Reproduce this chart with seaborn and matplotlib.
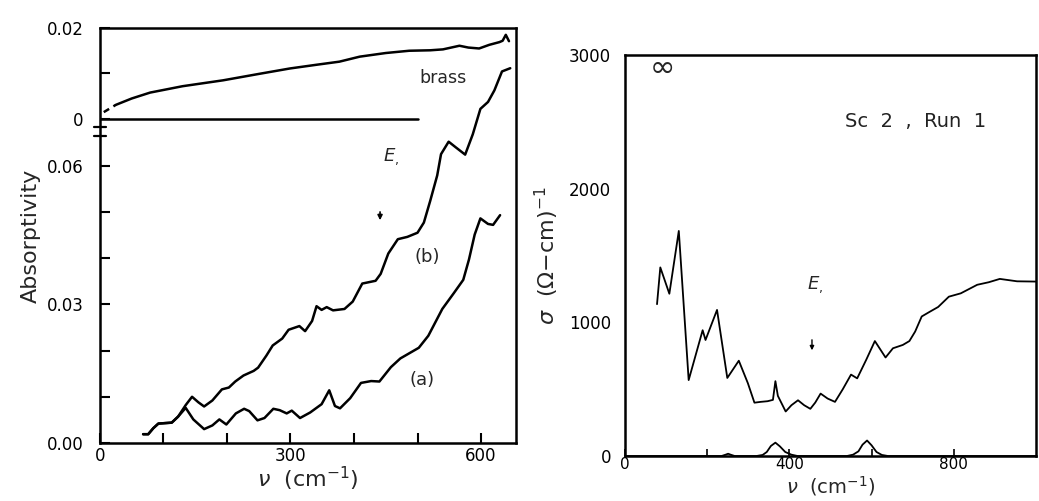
import matplotlib
matplotlib.use("Agg")
import matplotlib.pyplot as plt
import seaborn as sns

# ---------------- left panel: absorptivity ----------------
# curve (b)
b_nu = [68, 76, 84, 92, 113, 123, 135, 145, 155, 164, 177, 192, 203, 213, 226, 242,
        249, 262, 272, 287, 297, 314, 323, 334, 341, 349, 357, 367, 385, 398, 413,
        434, 442, 454, 469, 484, 500, 510, 520, 531, 537, 549, 560, 575, 587, 599,
        611, 621, 633, 646]
b_abs = [0.0019, 0.0019, 0.0032, 0.0042, 0.0044, 0.0057, 0.0082, 0.0100, 0.0088,
         0.0079, 0.0092, 0.0116, 0.0120, 0.0133, 0.0146, 0.0156, 0.0163, 0.0189,
         0.0211, 0.0226, 0.0245, 0.0253, 0.0242, 0.0264, 0.0296, 0.0288, 0.0294,
         0.0287, 0.0290, 0.0306, 0.0345, 0.0351, 0.0366, 0.0410, 0.0441, 0.0446,
         0.0455, 0.0477, 0.0524, 0.0579, 0.0625, 0.0652, 0.0640, 0.0624, 0.0668,
         0.0723, 0.0738, 0.0763, 0.0804, 0.0811]

# curve (a)
a_nu = [68, 76, 84, 92, 113, 123, 135, 147, 164, 177, 188, 199, 214, 227, 235, 248,
        259, 273, 283, 294, 302, 315, 331, 349, 361, 370, 378, 394, 411, 427, 440,
        458, 473, 502, 517, 539, 557, 572, 581, 590, 599, 611, 619, 630]
a_abs = [0.0019, 0.0019, 0.0032, 0.0042, 0.0044, 0.0057, 0.0076, 0.0051, 0.0030,
         0.0038, 0.0051, 0.0040, 0.0064, 0.0074, 0.0069, 0.0049, 0.0054, 0.0074,
         0.0071, 0.0064, 0.0070, 0.0054, 0.0066, 0.0084, 0.0114, 0.0080, 0.0075,
         0.0097, 0.0130, 0.0134, 0.0133, 0.0164, 0.0183, 0.0206, 0.0232, 0.0290,
         0.0324, 0.0353, 0.0397, 0.0451, 0.0486, 0.0474, 0.0472, 0.0493]

# brass reference (dashed extrapolation + measured part)
brass_dash_nu = [6, 25]
brass_dash_abs = [0.0015, 0.0031]
brass_nu = [25, 50, 79, 130, 194, 250, 299, 340, 377, 409, 450, 487, 520, 540, 566,
            580, 597, 613, 629, 634, 639, 644]
brass_abs = [0.0031, 0.0045, 0.0058, 0.0072, 0.0085, 0.0099, 0.0111, 0.0119, 0.0126,
             0.0137, 0.0145, 0.0150, 0.0151, 0.0153, 0.0161, 0.0157, 0.0155, 0.0163,
             0.0169, 0.0172, 0.0185, 0.0171]
zero_nu = [0, 500]
zero_abs = [0.0, 0.0]

left_xticks = [0, 100, 200, 300, 400, 500, 600]
left_xlabels = ["0", "", "", "300", "", "", "600"]
left_yticks = [0.00, 0.01, 0.02, 0.03, 0.04, 0.05, 0.06]
left_ylabels = ["0.00", "", "", "0.03", "", "", "0.06"]
brass_yticks = [0.0, 0.01, 0.02]
brass_ylabels = ["0", "", "0.02"]

# ---------------- right panel: conductivity ----------------
sig_nu = [78, 86, 108, 131, 155, 189, 196, 224, 249, 277, 299, 315, 330, 347, 360,
          366, 372, 391, 405, 421, 436, 451, 463, 476, 493, 511, 530, 550, 565, 587,
          608, 634, 652, 676, 692, 706, 722, 742, 762, 788, 817, 857, 885, 912, 954,
          1000]
sig_val = [1136, 1411, 1214, 1684, 568, 941, 868, 1093, 584, 713, 545, 399, 405, 410,
           420, 560, 450, 333, 380, 417, 380, 353, 400, 467, 430, 405, 500, 609, 581,
           720, 860, 737, 806, 831, 860, 931, 1044, 1080, 1115, 1192, 1217, 1281,
           1300, 1325, 1307, 1305]

osc_nu = [0, 235, 245, 251, 257, 267, 320, 335, 345, 355, 366, 377, 390, 405, 420,
          540, 555, 568, 578, 589, 600, 612, 625, 640, 1000]
osc_val = [0, 0, 10, 17, 10, 0, 0, 8, 30, 75, 100, 72, 30, 10, 0, 0, 10, 35, 85, 116,
           80, 30, 8, 0, 0]

right_xticks = [0, 200, 400, 600, 800]
right_xlabels = ["0", "", "400", "", "800"]
right_yticks = [0, 1000, 2000, 3000]
right_ylabels = ["0", "1000", "2000", "3000"]

sns.set_theme(style="ticks")
plt.rcParams["font.family"] = ["DejaVu Sans"]
plt.rcParams["axes.linewidth"] = 1.8

fig = plt.figure(figsize=(10.39, 5.01), dpi=100)
fig.patch.set_facecolor("white")

LW = 1.8
tick_kw = dict(direction="in", length=7, width=1.5, labelsize=12, colors="black")

# lower (main) axes of the left panel
axL = fig.add_axes([0.0962, 0.1158, 0.4004, 0.8283])
axL.set_facecolor("white")
sns.lineplot(x=b_nu, y=b_abs, ax=axL, color="black", lw=LW, estimator=None, sort=False)
sns.lineplot(x=a_nu, y=a_abs, ax=axL, color="black", lw=LW, estimator=None, sort=False)
axL.set_xlim(0, 655)
axL.set_ylim(0, 0.0898)
axL.set_xticks(left_xticks)
axL.set_xticklabels(left_xlabels)
axL.set_yticks(left_yticks)
axL.set_yticklabels(left_ylabels)
axL.tick_params(axis="x", pad=3, **tick_kw)
axL.tick_params(axis="y", pad=12, **tick_kw)
for s in axL.spines.values():
    s.set_color("black")
    s.set_linewidth(1.8)
axL.set_xlabel(r"$\nu$  (cm$^{-1}$)", fontsize=16, labelpad=0)
axL.set_ylabel("Absorptivity", fontsize=16, labelpad=4)

# axis-break marks on the left spine
for yb in (0.0665, 0.0683):
    axL.plot([-9, 9], [yb, yb], color="black", lw=1.6, clip_on=False)

axL.text(540, 0.0790, "brass", fontsize=12.5, ha="center", va="center")
axL.text(458, 0.0619, r"$E_,$", fontsize=13, ha="center", va="center")
axL.annotate("", xy=(441, 0.0476), xytext=(441, 0.0506),
             arrowprops=dict(arrowstyle="-|>", color="black", lw=1.2,
                             mutation_scale=7))
axL.text(515, 0.0403, "(b)", fontsize=13, ha="center", va="center")
axL.text(507, 0.0136, "(a)", fontsize=13, ha="center", va="center")

# overlay axes for the brass reference scale
axB = fig.add_axes([0.0962, 0.7385, 0.4004, 0.2056])
axB.patch.set_visible(False)
sns.lineplot(x=brass_dash_nu, y=brass_dash_abs, ax=axB, color="black", lw=LW,
             linestyle=(0, (2.5, 2)), estimator=None, sort=False)
sns.lineplot(x=brass_nu, y=brass_abs, ax=axB, color="black", lw=LW,
             estimator=None, sort=False)
sns.lineplot(x=zero_nu, y=zero_abs, ax=axB, color="black", lw=LW,
             estimator=None, sort=False)
axB.set_xlim(0, 655)
axB.set_ylim(-0.00265, 0.02)
axB.set_xticks([])
axB.set_yticks(brass_yticks)
axB.set_yticklabels(brass_ylabels)
axB.tick_params(axis="y", pad=12, **tick_kw)
for s in axB.spines.values():
    s.set_visible(False)
axB.set_xlabel("")
axB.set_ylabel("")

# right panel
axR = fig.add_axes([0.6015, 0.0898, 0.3956, 0.8004])
axR.set_facecolor("white")
sns.lineplot(x=sig_nu, y=sig_val, ax=axR, color="black", lw=1.3, estimator=None, sort=False)
sns.lineplot(x=osc_nu, y=osc_val, ax=axR, color="black", lw=1.3, estimator=None, sort=False)
axR.set_xlim(0, 1000)
axR.set_ylim(0, 3000)
axR.set_xticks(right_xticks)
axR.set_xticklabels(right_xlabels)
axR.set_yticks(right_yticks)
axR.set_yticklabels(right_ylabels)
axR.tick_params(axis="x", pad=1, direction="in", length=5, width=1.2, labelsize=11,
                colors="black")
axR.tick_params(axis="y", pad=10, direction="in", length=0, labelsize=12,
                colors="black")
for s in axR.spines.values():
    s.set_color("black")
    s.set_linewidth(1.8)
axR.set_xlabel(r"$\nu$  (cm$^{-1}$)", fontsize=14, labelpad=1)
axR.set_ylabel(r"$\sigma$  ($\Omega$$-$cm)$^{-1}$", fontsize=16, labelpad=6)

axR.text(92, 2900, "∞", fontsize=22, ha="center", va="center")
axR.text(706, 2504, "Sc  2  ,  Run  1", fontsize=14, ha="center", va="center",
         color="#222222")
axR.text(462, 1281, r"$E_,$", fontsize=13, ha="center", va="center")
axR.annotate("", xy=(455, 770), xytext=(455, 890),
             arrowprops=dict(arrowstyle="-|>", color="black", lw=1.0,
                             mutation_scale=6))

fig.savefig("out.png", dpi=100, facecolor="white")
